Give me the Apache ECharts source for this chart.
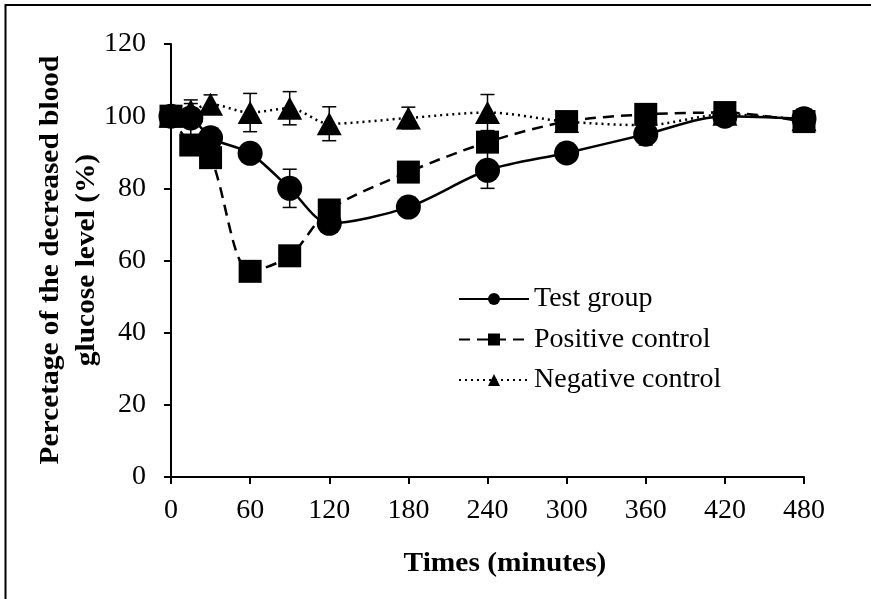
<!DOCTYPE html>
<html><head><meta charset="utf-8">
<script src="https://cdn.jsdelivr.net/npm/echarts@6/dist/echarts.min.js"></script>
<style>html,body{margin:0;padding:0;background:#fff}#c{width:871px;height:599px}</style>
</head><body><div id="c"></div>
<script>
var times = [0, 15, 30, 60, 90, 120, 180, 240, 300, 360, 420, 480];
var testGroup = [100, 99.5, 94, 89.7, 80, 70.3, 74.8, 85, 89.8, 95, 100, 99.3];
var testErr   = [1, 5, 2, 2, 5.3, 2, 2, 5, 2, 3, 1.5, 2];
var positive  = [100, 92, 88.5, 57, 61.3, 74, 84.5, 92.8, 98.5, 100.5, 101, 98.5];
var posErr    = [1, 2, 2, 2, 2, 2, 2, 2, 2.5, 2, 2, 2];
var negative  = [100, 101.5, 103.3, 101, 102.2, 97.9, 99.5, 101, 98.5, 97.5, 100.5, 99];
var negErr    = [1, 2, 2.6, 5.3, 4.6, 4.7, 3, 5, 2, 2, 2, 2];
var xTicks = [0, 60, 120, 180, 240, 300, 360, 420, 480];
var yTicks = [0, 20, 40, 60, 80, 100, 120];

var chart = echarts.init(document.getElementById('c'), null, {renderer: 'canvas'});
var font = 'Liberation Serif';

function pairs(vals) { return times.map(function (t, i) { return [t, vals[i]]; }); }
function errData(vals, errs) { return times.map(function (t, i) { return [t, vals[i] - errs[i], vals[i] + errs[i]]; }); }
function errSeries(vals, errs) {
  return {
    type: 'custom', silent: true, z: 1,
    data: errData(vals, errs),
    renderItem: function (params, api) {
      var lo = api.coord([api.value(0), api.value(1)]);
      var hi = api.coord([api.value(0), api.value(2)]);
      var w = 7;
      var st = {stroke: '#000', lineWidth: 1.5};
      return {type: 'group', children: [
        {type: 'line', shape: {x1: lo[0], y1: lo[1], x2: hi[0], y2: hi[1]}, style: st},
        {type: 'line', shape: {x1: lo[0] - w, y1: lo[1], x2: lo[0] + w, y2: lo[1]}, style: st},
        {type: 'line', shape: {x1: hi[0] - w, y1: hi[1], x2: hi[0] + w, y2: hi[1]}, style: st}
      ]};
    }
  };
}

chart.setOption({
  animation: false,
  backgroundColor: '#fff',
  grid: {left: 171, right: 67, top: 44, bottom: 122},
  xAxis: {
    type: 'value', min: 0, max: 480, interval: 60,
    axisLine: {show: true, onZero: false, lineStyle: {color: '#000', width: 2}},
    axisTick: {show: true, length: 7, lineStyle: {color: '#000', width: 2}},
    splitLine: {show: false},
    axisLabel: {color: '#000', fontFamily: font, fontSize: 28, margin: 20,
      formatter: function (v) { return xTicks.indexOf(v) >= 0 ? String(v) : ''; }}
  },
  yAxis: {
    type: 'value', min: 0, max: 120, interval: 20,
    axisLine: {show: true, lineStyle: {color: '#000', width: 2}},
    axisTick: {show: true, length: 7, lineStyle: {color: '#000', width: 2}},
    splitLine: {show: false},
    axisLabel: {color: '#000', fontFamily: font, fontSize: 28, margin: 25,
      formatter: function (v) { return yTicks.indexOf(v) >= 0 ? String(v) : ''; }}
  },
  legend: {
    orient: 'vertical', left: 453, top: 280, itemWidth: 70, itemHeight: 15, itemGap: 12.5,
    textStyle: {color: '#000', fontFamily: font, fontSize: 28},
    data: ['Test group', 'Positive control', 'Negative control']
  },
  series: [
    errSeries(testGroup, testErr),
    errSeries(positive, posErr),
    errSeries(negative, negErr),
    {name: 'Negative control', type: 'line', z: 2, smooth: 0.3, data: pairs(negative),
      symbol: 'triangle', symbolSize: [25, 23],
      itemStyle: {color: '#000'}, lineStyle: {color: '#000', width: 2.5, type: [2, 4]}},
    {name: 'Positive control', type: 'line', z: 3, smooth: 0.3, data: pairs(positive),
      symbol: 'rect', symbolSize: 23,
      itemStyle: {color: '#000'}, lineStyle: {color: '#000', width: 2.5, type: [11, 7]}},
    {name: 'Test group', type: 'line', z: 4, smooth: 0.3, data: pairs(testGroup),
      symbol: 'circle', symbolSize: 25,
      itemStyle: {color: '#000'}, lineStyle: {color: '#000', width: 2.5}}
  ],
  graphic: [
    {type: 'line', shape: {x1: 5, y1: 5, x2: 871, y2: 5}, style: {stroke: '#000', lineWidth: 2}},
    {type: 'line', shape: {x1: 5.5, y1: 4, x2: 5.5, y2: 599}, style: {stroke: '#000', lineWidth: 2}},
    {type: 'text', x: 505, y: 564, scaleX: 1.05, style: {text: 'Times (minutes)', fill: '#000', font: 'bold 28px "Liberation Serif"', align: 'center', verticalAlign: 'middle'}},
    {type: 'text', x: 69, y: 260, rotation: Math.PI / 2, scaleX: 1.05, style: {text: 'Percetage of the decreased blood\nglucose level (%)', fill: '#000', font: 'bold 28px "Liberation Serif"', lineHeight: 36, align: 'center', verticalAlign: 'middle'}}
  ]
});
</script></body></html>
